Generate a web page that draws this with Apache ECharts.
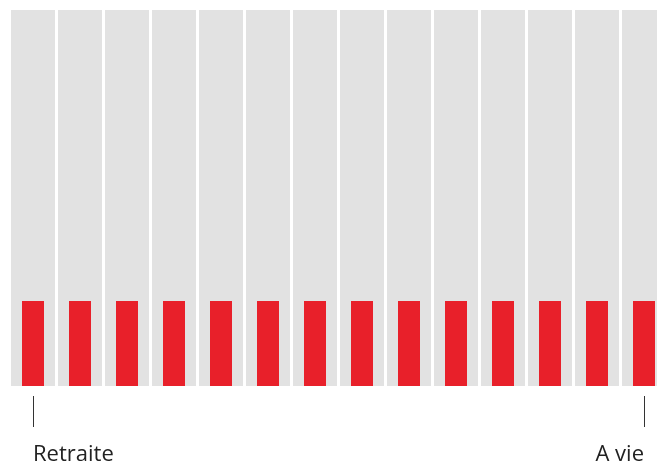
<!DOCTYPE html>
<html>
<head>
<meta charset="utf-8">
<script src="https://cdn.jsdelivr.net/npm/echarts@6/dist/echarts.min.js"></script>
<style>
  html, body { margin: 0; padding: 0; background: #fff; }
  #chart { width: 657px; height: 464px; }
</style>
</head>
<body>
<div id="chart"></div>
<script>
// 14 périodes, de la retraite à vie
var categories = ['Retraite', '', '', '', '', '', '', '', '', '', '', '', '', 'A vie'];
var fullValues = [100, 100, 100, 100, 100, 100, 100, 100, 100, 100, 100, 100, 100, 100];
var redValues = [22.6, 22.6, 22.6, 22.6, 22.6, 22.6, 22.6, 22.6, 22.6, 22.6, 22.6, 22.6, 22.6, 22.6];

var chart = echarts.init(document.getElementById('chart'));
var lastIdx = categories.length - 1;
var firstLast = function (i) { return i === 0 || i === lastIdx; };

chart.setOption({
    animation: false,
    grid: { left: 9.5, top: 10, width: 658, bottom: 78, outerBoundsMode: 'none', containLabel: false },
    xAxis: [
        {
            type: 'category',
            data: categories,
            show: false
        },
        {
            type: 'category',
            data: categories,
            position: 'bottom',
            offset: 10,
            axisLine: { show: false },
            axisTick: {
                show: true,
                alignWithLabel: true,
                length: 31,
                interval: firstLast,
                lineStyle: { color: '#333', width: 1 }
            },
            axisLabel: {
                interval: firstLast,
                margin: 48,
                fontFamily: 'Open Sans',
                fontSize: 22,
                color: '#222',
                alignMinLabel: 'left',
                alignMaxLabel: 'right',
                showMinLabel: true,
                showMaxLabel: true
            }
        }
    ],
    yAxis: {
        type: 'value',
        min: 0,
        max: 100,
        show: false
    },
    series: [
        {
            type: 'bar',
            xAxisIndex: 0,
            data: fullValues,
            barWidth: 44,
            itemStyle: { color: '#e2e2e2' },
            silent: true
        },
        {
            type: 'bar',
            xAxisIndex: 1,
            data: redValues,
            barWidth: 22,
            itemStyle: { color: '#e8202a' }
        }
    ]
});
</script>
</body>
</html>
